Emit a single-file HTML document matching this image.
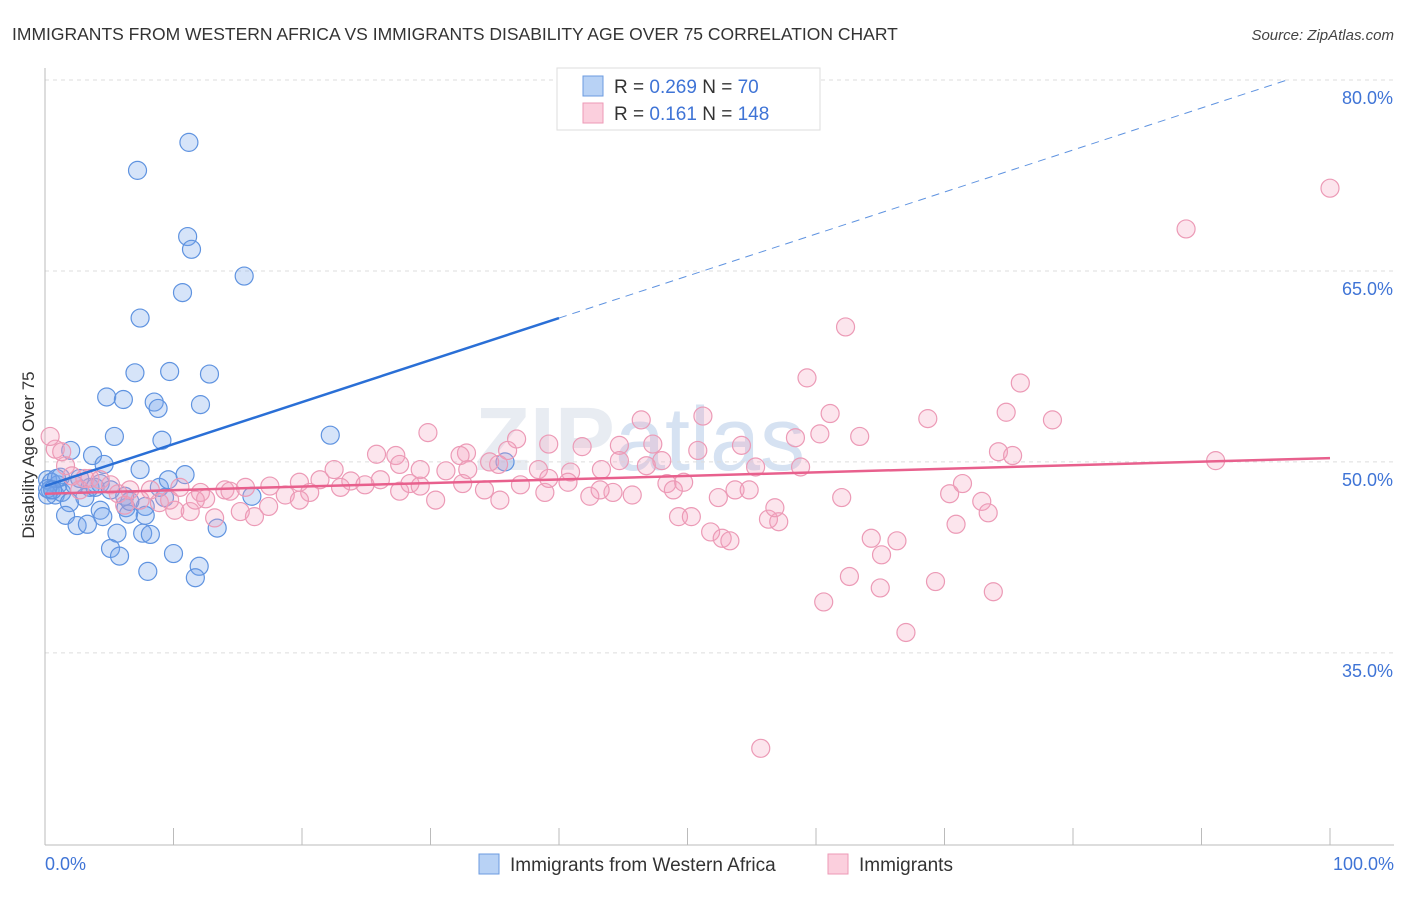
<!DOCTYPE html>
<html><head><meta charset="utf-8"><style>
body{margin:0;background:#fff;font-family:"Liberation Sans",sans-serif}
svg text{font-family:"Liberation Sans",sans-serif}
</style></head><body>
<svg id="chart" width="1406" height="892" xmlns="http://www.w3.org/2000/svg">
<text x="12" y="40" font-size="17.5" fill="#333">IMMIGRANTS FROM WESTERN AFRICA VS IMMIGRANTS DISABILITY AGE OVER 75 CORRELATION CHART</text>
<text x="1394" y="40" font-size="15" fill="#444" font-style="italic" text-anchor="end">Source: ZipAtlas.com</text>
<text x="640" y="470" font-size="90" fill="#e8ecf2" font-weight="bold" text-anchor="middle">ZIP<tspan font-weight="normal" fill="#d6e2f2">atlas</tspan></text>
<g id="grid"></g><g id="axes"></g><g id="pts"></g><g id="lines"></g>
<text transform="translate(34,455) rotate(-90)" font-size="17" fill="#333" text-anchor="middle">Disability Age Over 75</text>
<text x="45" y="870" font-size="18" fill="#3f74d6">0.0%</text>
<text x="1394" y="870" font-size="18" fill="#3f74d6" text-anchor="end">100.0%</text>
<g>
<rect x="557" y="68" width="263" height="62" fill="#fff" stroke="#ddd"/>
<rect x="583" y="76" width="20" height="20" fill="#b8d2f5" stroke="#6b9be0"/>
<rect x="583" y="103" width="20" height="20" fill="#fbcfdd" stroke="#ec9ab6"/>
<text x="614" y="93" font-size="19" fill="#333">R = <tspan fill="#3f74d6">0.269</tspan>   N =  <tspan fill="#3f74d6">70</tspan></text>
<text x="614" y="120" font-size="19" fill="#333">R =  <tspan fill="#3f74d6">0.161</tspan>   N = <tspan fill="#3f74d6">148</tspan></text>
</g>
<g>
<rect x="479" y="854" width="20" height="20" fill="#b8d2f5" stroke="#6b9be0"/>
<text x="510" y="871" font-size="19" fill="#333">Immigrants from Western Africa</text>
<rect x="828" y="854" width="20" height="20" fill="#fbcfdd" stroke="#ec9ab6"/>
<text x="859" y="871" font-size="19" fill="#333">Immigrants</text>
</g>
</svg>
<script>
const yTicks=[35,50,65,80];
const yTickLabels=["35.0%","50.0%","65.0%","80.0%"];
const xTicks=[0,10,20,30,40,50,60,70,80,90,100];
const blueX=[11.2,7.2,11.1,11.4,15.5,10.7,7.4,7.0,9.7,12.8,4.8,6.1,8.5,8.8,12.1,5.4,9.1,22.2,3.7,2.0,4.6,7.4,10.9,35.8,0.2,0.5,1.0,0.4,0.8,1.3,2.3,2.7,3.5,3.1,1.9,1.6,2.5,3.3,4.3,4.5,6.3,6.5,7.8,8.9,9.6,9.3,7.8,7.6,8.2,5.6,5.1,5.8,8.0,10.0,12.0,11.7,13.4,16.1,6.2,4.3,1.2,3.9,6.6,5.1,0.2,0.9,0.2,0.6];
const blueY=[75.1,72.9,67.7,66.7,64.6,63.3,61.3,57.0,57.1,56.9,55.1,54.9,54.7,54.2,54.5,52.0,51.7,52.1,50.5,50.9,49.8,49.4,49.0,50.0,48.6,48.4,48.2,47.8,47.4,47.6,48.2,48.7,48.0,47.2,46.8,45.8,45.0,45.1,46.2,45.7,46.4,45.9,46.5,48.0,48.6,47.2,45.8,44.4,44.3,44.4,43.2,42.6,41.4,42.8,41.8,40.9,44.8,47.3,47.3,48.3,48.8,48.0,46.9,47.8,47.4,48.7,47.9,47.8];
const pinkX=[100,88.8,62.3,59.3,75.9,74.8,78.4,68.7,61.1,51.2,46.4,58.4,60.3,63.4,54.2,50.8,47.3,44.7,41.8,39.2,36.7,36.0,29.8,32.8,32.3,25.8,27.3,27.6,22.5,74.2,75.3,91.1,55.3,58.8,48.0,46.8,43.3,40.9,38.4,35.3,34.6,32.9,31.2,29.2,23.8,21.4,19.8,17.5,15.6,14.0,12.1,10.5,8.2,6.6,5.1,3.1,1.6,0.8,0.4,1.3,2.1,3.5,5.7,7.4,8.9,10.1,11.3,13.2,15.2,16.3,17.4,18.7,20.6,23.0,24.9,27.6,28.4,30.4,32.5,34.2,35.4,38.9,40.7,42.4,44.2,45.7,48.4,48.9,49.7,52.4,53.7,54.8,49.3,50.3,51.8,52.7,53.3,56.3,57.1,56.8,62.0,60.6,62.6,64.3,65.1,65.0,66.3,67.0,69.3,70.4,70.9,71.4,72.9,73.4,73.8,55.7,9.7,12.5,14.4,19.8,26.1,29.2,37.0,39.2,43.2,44.7,2.7,4.3,6.2,11.7];
const pinkY=[71.5,68.3,60.6,56.6,56.2,53.9,53.3,53.4,53.8,53.6,53.3,51.9,52.2,52.0,51.3,50.9,51.4,51.3,51.2,51.4,51.8,50.9,52.3,50.7,50.5,50.6,50.5,49.8,49.4,50.8,50.5,50.1,49.6,49.6,50.1,49.7,49.4,49.2,49.4,49.8,50.0,49.4,49.3,49.4,48.5,48.6,48.4,48.1,48.0,47.8,47.6,48.0,47.8,47.8,48.2,48.7,49.7,51.0,52.0,50.8,48.9,48.7,47.5,47.0,46.8,46.2,46.1,45.6,46.1,45.7,46.5,47.4,47.6,48.0,48.2,47.7,48.3,47.0,48.3,47.8,47.0,47.6,48.4,47.3,47.6,47.4,48.3,47.8,48.4,47.2,47.8,47.8,45.7,45.7,44.5,44.0,43.8,45.5,45.3,46.4,47.2,39.0,41.0,44.0,42.7,40.1,43.8,36.6,40.6,47.5,45.1,48.3,46.9,46.0,39.8,27.5,47.0,47.1,47.7,47.0,48.6,48.1,48.2,48.7,47.8,50.1,47.8,48.6,46.6,47.0];
const blueTrend=[48.1,61.3,40]; // y at 0, y at x=40 (solid end)
const pinkTrend=[47.5,50.3];
const NS="http://www.w3.org/2000/svg";
const X=v=>45+v*12.85, Y=v=>80+(80-v)*12.73;
function mk(tag,attrs,parent){const e=document.createElementNS(NS,tag);for(const k in attrs)e.setAttribute(k,attrs[k]);parent.appendChild(e);return e;}
const grid=document.getElementById('grid'),axes=document.getElementById('axes'),pts=document.getElementById('pts'),lines=document.getElementById('lines');
yTicks.forEach((t,i)=>{
 const l=mk('line',{x1:45,x2:1394,y1:Y(t),y2:Y(t),stroke:'#ddd','stroke-dasharray':'4,4'},grid);
 
 
 const tx=mk('text',{x:1393,y:Y(t)+24,'font-size':18,fill:'#3f74d6','text-anchor':'end'},grid);
 tx.textContent=yTickLabels[i];
 
 
});
const ya=mk('line',{x1:45,x2:45,y1:68,y2:845,stroke:'#bbb'},axes);


const xa=mk('line',{x1:45,x2:1394,y1:845,y2:845,stroke:'#bbb'},axes);


xTicks.forEach(t=>{
 const l=mk('line',{x1:X(t),x2:X(t),y1:828,y2:845,stroke:'#bbb'},axes);
 
 
});
blueX.forEach((v,i)=>{
 const c=mk('circle',{cx:X(v),cy:Y(blueY[i]),r:9,fill:'rgba(120,165,235,0.3)',stroke:'#5f93e0','stroke-width':1.2},pts);
 
 
});
pinkX.forEach((v,i)=>{
 const c=mk('circle',{cx:X(v),cy:Y(pinkY[i]),r:9,fill:'rgba(245,160,190,0.28)',stroke:'#ec9ab6','stroke-width':1.2},pts);
 
 
});
const slope=(blueTrend[1]-blueTrend[0])/blueTrend[2];
const xEnd=Math.min(100,(80-blueTrend[0])/slope);
const bs=mk('line',{x1:X(0),y1:Y(blueTrend[0]),x2:X(blueTrend[2]),y2:Y(blueTrend[1]),stroke:'#2a6fd6','stroke-width':2.5},lines);


const bd=mk('line',{x1:X(blueTrend[2]),y1:Y(blueTrend[1]),x2:X(xEnd),y2:Y(blueTrend[0]+slope*xEnd),stroke:'#5f93e0','stroke-width':1,'stroke-dasharray':'8,6'},lines);


const pl=mk('line',{x1:X(0),y1:Y(pinkTrend[0]),x2:X(100),y2:Y(pinkTrend[1]),stroke:'#e8608d','stroke-width':2.5},lines);


</script>
</body></html>
